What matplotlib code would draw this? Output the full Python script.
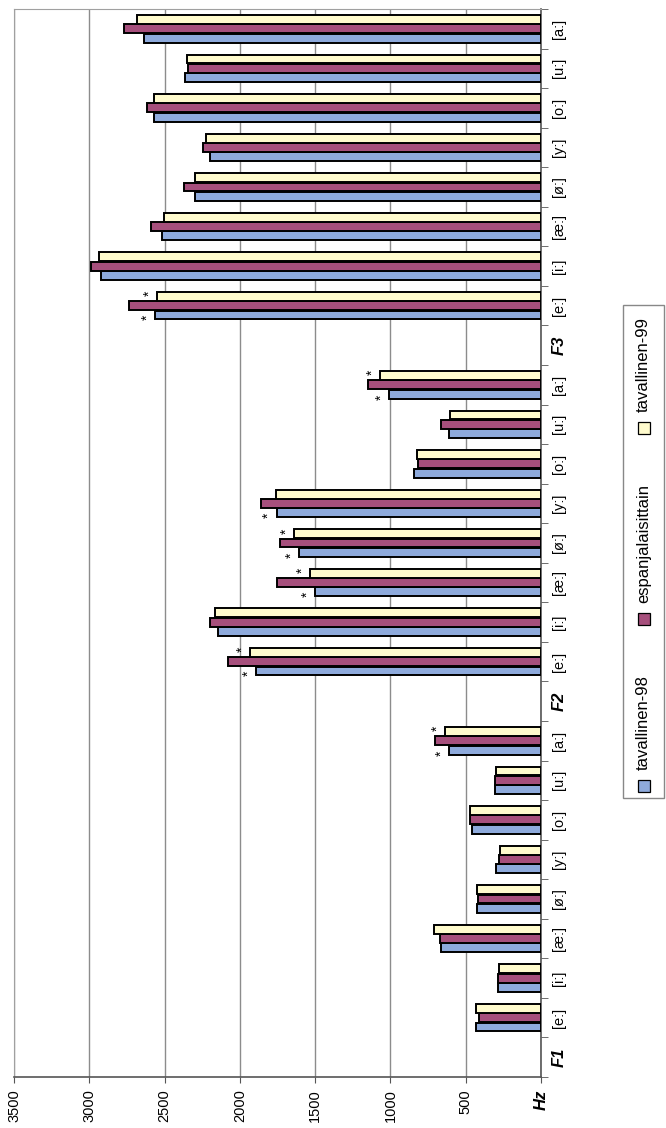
import matplotlib.pyplot as plt
from matplotlib.patches import Rectangle

plt.rcParams['font.family'] = ['Liberation Sans', 'DejaVu Sans']

# formant groups and vowels (order along the category axis)
groups = ['F1', 'F2', 'F3']
vowels = ['[e:]', '[i:]', '[æ:]', '[ø:]', '[y:]', '[o:]', '[u:]', '[a:]']
series = ['tavallinen-98', 'espanjalaisittain', 'tavallinen-99']

# Hz values, vowel order as above
f1_t98 = [429, 284, 667, 424, 300, 456, 304, 613]
f1_esp = [413, 284, 673, 418, 282, 473, 304, 707]
f1_t99 = [433, 278, 711, 424, 273, 469, 296, 636]

f2_t98 = [1890, 2147, 1500, 1604, 1756, 842, 609, 1009]
f2_esp = [2080, 2195, 1751, 1733, 1858, 820, 667, 1147]
f2_t99 = [1930, 2164, 1531, 1640, 1760, 824, 604, 1071]

f3_t98 = [2562, 2922, 2515, 2298, 2198, 2569, 2367, 2638]
f3_esp = [2738, 2989, 2593, 2373, 2244, 2620, 2342, 2769]
f3_t99 = [2549, 2938, 2507, 2296, 2224, 2567, 2353, 2680]

# significance marks (*) next to the bars
stars_t98 = [('F1', '[a:]'), ('F2', '[e:]'), ('F2', '[æ:]'), ('F2', '[ø:]'),
             ('F2', '[y:]'), ('F2', '[a:]'), ('F3', '[e:]')]
stars_t99 = [('F1', '[a:]'), ('F2', '[e:]'), ('F2', '[æ:]'), ('F2', '[ø:]'),
             ('F2', '[a:]'), ('F3', '[e:]')]

xticks = [0, 500, 1000, 1500, 2000, 2500, 3000, 3500]

blue = '#8eaadc'
purple = '#a64f7c'
yellow = '#fffbcd'
colors = [blue, purple, yellow]

W, H = 666, 1128
fig = plt.figure(figsize=(W / 100, H / 100), dpi=100)
ax = fig.add_axes([14 / W, 1 - 1077 / H, (541 - 14) / W, (1077 - 9) / H])

data = {'F1': [f1_t98, f1_esp, f1_t99],
        'F2': [f2_t98, f2_esp, f2_t99],
        'F3': [f3_t98, f3_esp, f3_t99]}

bar_h = 0.225
step = 0.236
cat_labels = []
positions = {}
for gi, g in enumerate(groups):
    base = gi * (len(vowels) + 1)
    cat_labels.append(g)
    pos = [base + 1 + i for i in range(len(vowels))]
    cat_labels += vowels
    for v, p in zip(vowels, pos):
        positions[(g, v)] = p
    for si, vals in enumerate(data[g]):
        ax.barh([p + (si - 1) * step for p in pos], vals, height=bar_h,
                color=colors[si], edgecolor='black', linewidth=1.4, zorder=3)

for key in stars_t98:
    p = positions[key]
    val = data[key[0]][0][vowels.index(key[1])]
    ax.text(val + 50, p - step - 0.07, '*', rotation=90, ha='center',
            va='center', fontsize=10, zorder=4)
for key in stars_t99:
    p = positions[key]
    val = data[key[0]][2][vowels.index(key[1])]
    ax.text(val + 50, p + step + 0.07, '*', rotation=90, ha='center',
            va='center', fontsize=10, zorder=4)

ax.set_xlim(3500, 0)
ax.set_ylim(-0.5, len(cat_labels) - 0.5)

ax.set_xticks(xticks)
ax.set_xticklabels(['Hz'] + [str(v) for v in xticks[1:]])
ax.tick_params(axis='x', direction='out', length=4, labelrotation=90,
               labelsize=10.5, pad=5, color='#555555')
hz = ax.get_xticklabels()[0]
hz.set_fontweight('bold')
hz.set_fontstyle('italic')
hz.set_fontsize(12)
ax.grid(axis='x', color='#8c8c8c', linewidth=1)
ax.set_axisbelow(True)

ax.yaxis.tick_right()
ax.set_yticks(range(len(cat_labels)))
ax.set_yticklabels(cat_labels)
ax.set_yticks([k + 0.5 for k in range(-1, len(cat_labels))], minor=True)
ax.tick_params(axis='y', which='major', length=0, labelrotation=90,
               labelsize=10.5, pad=8)
ax.tick_params(axis='y', which='minor', length=5, direction='out',
               color='#555555')
for t in ax.get_yticklabels():
    t.set_va('center')
    if t.get_text().startswith('F'):
        t.set_fontweight('bold')
        t.set_fontstyle('italic')
        t.set_fontsize(12)

for s in ['top', 'left']:
    ax.spines[s].set_color('#a0a0a0')
for s in ['bottom', 'right']:
    ax.spines[s].set_color('#555555')
    ax.spines[s].set_linewidth(1.2)

# legend drawn by hand, rotated like the rest of the chart
fig.canvas.draw()
renderer = fig.canvas.get_renderer()
cx = 643.5 / W
box_bottom = 1 - 798 / H
y = box_bottom + 6 / H
sq = 12
for i, (name, col) in enumerate(zip(series, colors)):
    fig.patches.append(Rectangle((cx - sq / 2 / W, y), sq / W, sq / H,
                                 transform=fig.transFigure, facecolor=col,
                                 edgecolor='black', linewidth=0.9))
    y += (sq + 10) / H
    t = fig.text(cx, y, name, rotation=90, ha='center', va='bottom',
                 fontsize=12)
    bb = t.get_window_extent(renderer)
    y += bb.height / H
    if i < len(series) - 1:
        y += 50 / H
box_top = y + 12 / H
fig.patches.append(Rectangle((623 / W, box_bottom), (664 - 623) / W,
                             box_top - box_bottom, transform=fig.transFigure,
                             facecolor='white', edgecolor='#888888',
                             linewidth=1, zorder=-1))

fig.savefig('out.png', dpi=100)
